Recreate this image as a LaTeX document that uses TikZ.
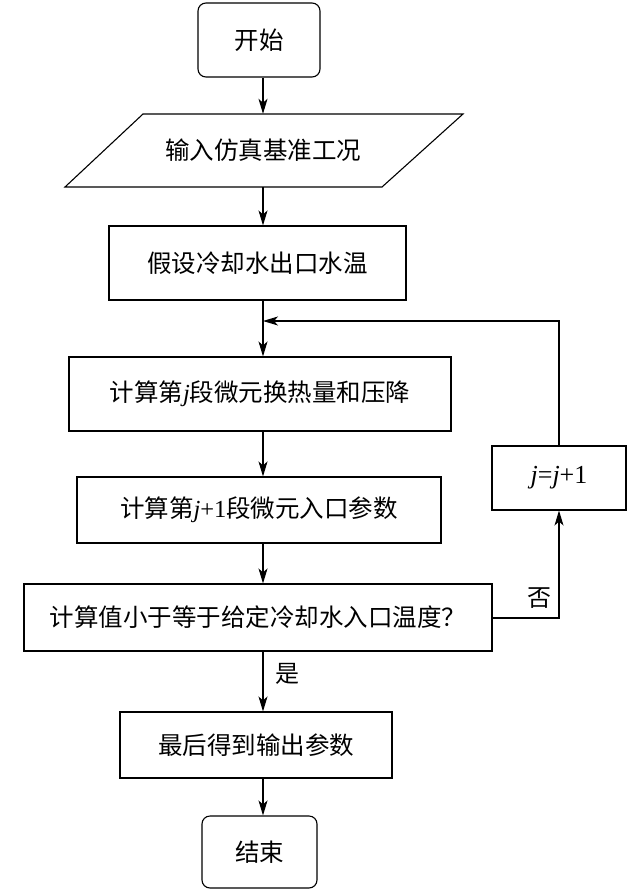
\documentclass[tikz,border=0pt]{standalone}
\usepackage{fontspec}
\setmainfont{Liberation Serif}
\newfontfamily\cjk{Noto Sans CJK SC}[BoldFont={Noto Sans CJK SC}]
\usetikzlibrary{arrows.meta}
\newcommand\Jv{{\rmfamily\itshape j}}
\tikzset{
  box/.style={draw, line width=1.1pt, inner sep=0pt, font=\cjk\fontsize{24.5}{27}\selectfont},
  term/.style={box, rounded corners=8pt},
  arr/.style={line width=1.1pt, -{Stealth[length=15pt,width=9pt,inset=4pt]}},
  ln/.style={line width=1.1pt},
  lbl/.style={font=\cjk\fontsize{24}{26}\selectfont, inner sep=0pt}
}
\begin{document}
\begin{tikzpicture}[x=1pt,y=-1pt]
\useasboundingbox (0,0) rectangle (641,894);
\coordinate (spine) at (263,0);
\node[term, minimum width=122pt, minimum height=74pt] (start) at (259,40) {开始};
\draw[ln] (143,114) -- (463,114) -- (382,187) -- (65,187) -- cycle;
\node[inner sep=0pt, minimum width=320pt, minimum height=73pt, font=\cjk\fontsize{24.5}{27}\selectfont] (in) at (263,150.5) {输入仿真基准工况};
\node[box, minimum width=297pt, minimum height=74pt] (assume) at (257.5,263) {假设冷却水出口水温};
\node[box, minimum width=382pt, minimum height=74pt] (seg) at (260,394) {计算第\Jv 段微元换热量和压降};
\node[box, minimum width=364pt, minimum height=66pt] (next) at (259,510) {计算第\Jv{\rmfamily +1}段微元入口参数};
\node[box, minimum width=468pt, minimum height=67pt] (dec) at (258,617.5) {计算值小于等于给定冷却水入口温度？};
\node[box, minimum width=134pt, minimum height=64pt, font=\rmfamily\fontsize{26}{28}\selectfont] (inc) at (559,478) {\textit{j}=\textit{j}+1};
\node[box, minimum width=272pt, minimum height=66pt] (last) at (256,745) {最后得到输出参数};
\node[term, minimum width=115pt, minimum height=72pt] (end) at (259.5,852) {结束};
\coordinate (fb) at (263,321);
\coordinate (nocorner) at (559,618);
\draw[arr] (start.south -| spine) -- (in.north -| spine);
\draw[arr] (in.south -| spine) -- (assume.north -| spine);
\draw[arr] (assume.south -| spine) -- (seg.north -| spine);
\draw[arr] (seg.south -| spine) -- (next.north -| spine);
\draw[arr] (next.south -| spine) -- (dec.north -| spine);
\draw[arr] (dec.south -| spine) -- (last.north -| spine);
\draw[arr] (last.south -| spine) -- (end.north -| spine);
\draw[arr] (dec.east |- nocorner) -- (nocorner) -- (inc.south);
\draw[arr] (inc.north) |- (fb);
\node[lbl] (no) at (539,598) {否};
\node[lbl] (yes) at (287,674) {是};
\end{tikzpicture}
\end{document}
